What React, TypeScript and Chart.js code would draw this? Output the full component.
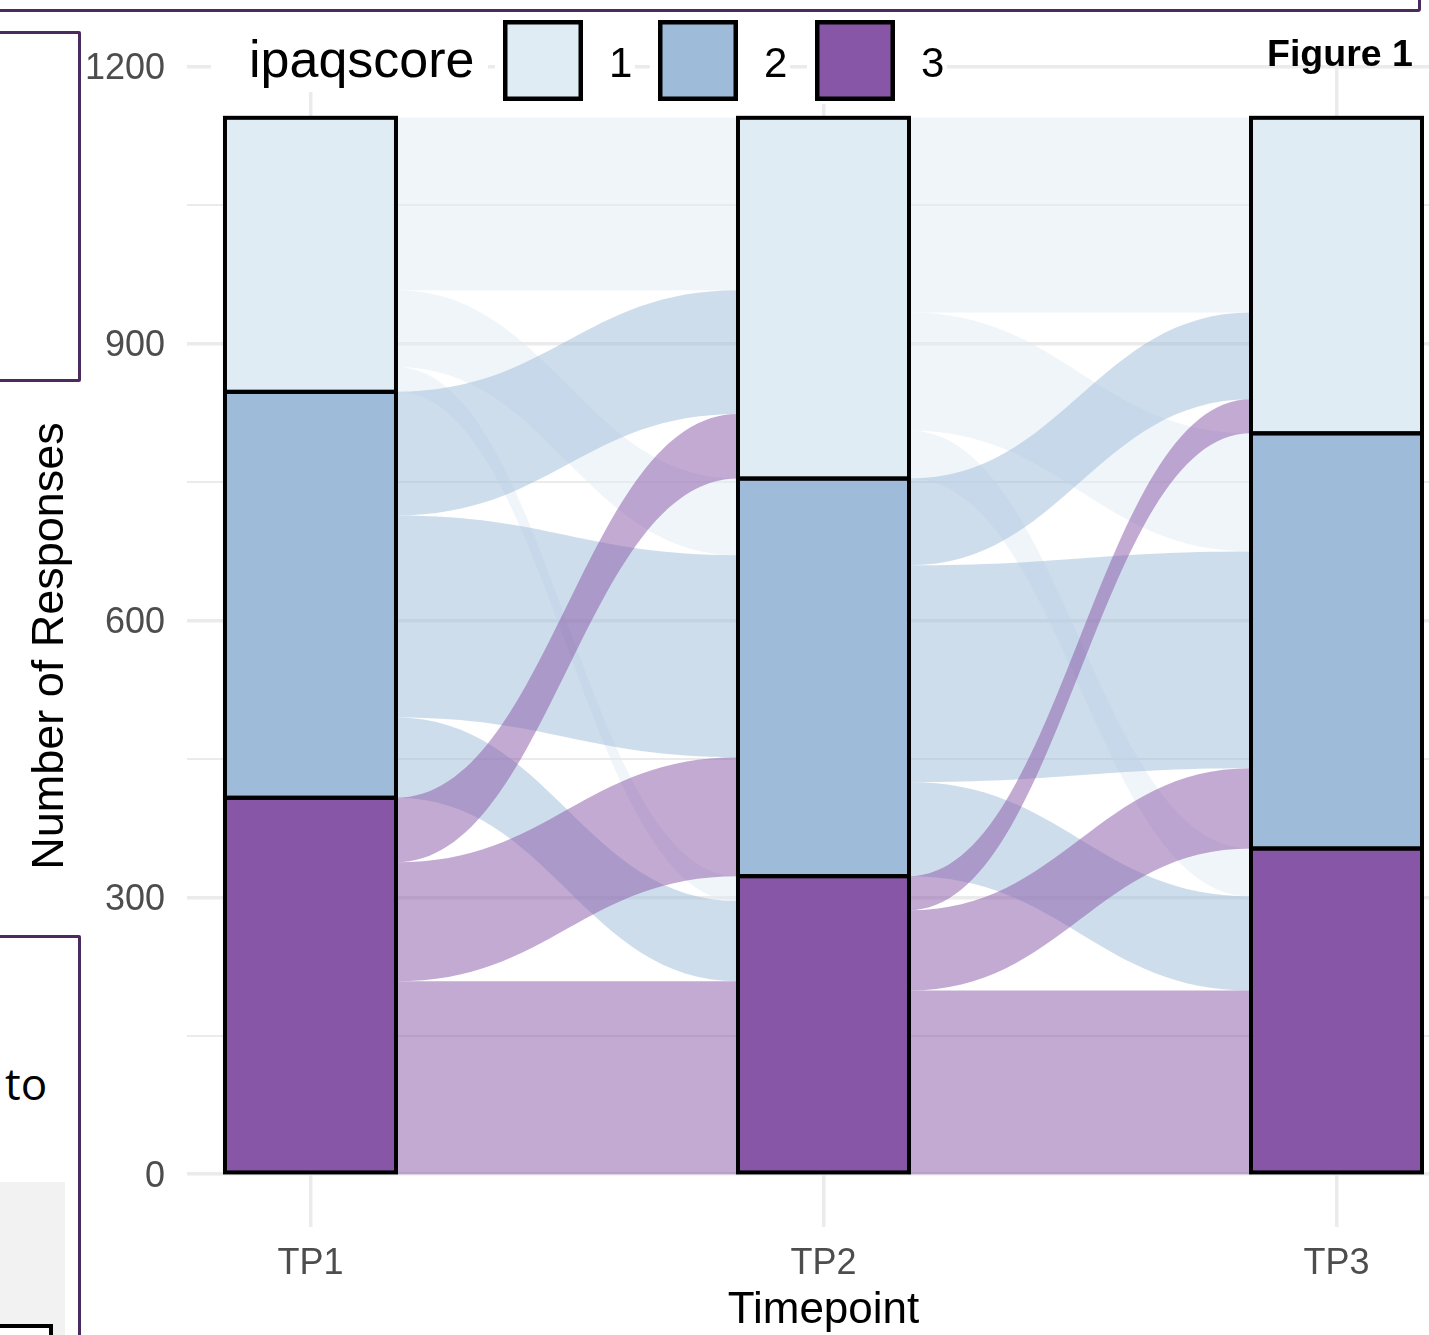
import React, { useEffect, useRef } from 'react';
import { Chart, registerables } from 'chart.js';

Chart.register(...registerables);

// ---------- data ----------
const timepoints = ['TP1', 'TP2', 'TP3'];
const scoreLevels = ['1', '2', '3'];
const score1Counts = [297, 391, 342];
const score2Counts = [440, 431, 450];
const score3Counts = [408, 323, 353];
// alluvial flows: rows = ipaqscore at earlier timepoint (1,2,3), cols = ipaqscore at later timepoint (1,2,3)
const flowsTP1toTP2 = [
  [187, 83, 27],
  [134, 219, 87],
  [70, 129, 209],
];
const flowsTP2toTP3 = [
  [211, 128, 52],
  [94, 235, 102],
  [37, 87, 199],
];
const yMajorTicks = [0, 300, 600, 900, 1200];
const yMinorTicks = [150, 450, 750, 1050];

// ---------- styling ----------
const fillColors = ['#e0ecf4', '#9ebcda', '#8856a7'];
const flowColors = ['rgba(224,236,244,0.5)', 'rgba(158,188,218,0.5)', 'rgba(136,86,167,0.5)'];
const FONT = "'Liberation Sans', Arial, Helvetica, sans-serif";
const strataWidth = 1 / 3;
const curveTension = 0.45;
const gridColor = '#ebebeb';

const countsByScore = [score1Counts, score2Counts, score3Counts];
const flowSets = [flowsTP1toTP2, flowsTP2toTP3];
const stackOrder = [2, 1, 0]; // score 3 at the bottom of each stack
const drawOrder = [0, 1, 2]; // flows from score 1 painted first

function strataBottoms(t: number): number[] {
  const bottoms = [0, 0, 0];
  let acc = 0;
  for (const s of stackOrder) {
    bottoms[s] = acc;
    acc += countsByScore[s][t];
  }
  return bottoms;
}

const alluvialPlugin = {
  id: 'alluvialFlows',
  beforeDatasetsDraw(chart: any) {
    const { ctx, chartArea, scales } = chart;
    const x = scales.x;
    const y = scales.y;
    ctx.save();
    ctx.beginPath();
    ctx.rect(chartArea.left, chartArea.top, chartArea.right - chartArea.left, chartArea.bottom - chartArea.top);
    ctx.clip();
    flowSets.forEach((flows, t) => {
      const srcB = strataBottoms(t);
      const dstB = strataBottoms(t + 1);
      const x0 = x.getPixelForValue(t + 1 + strataWidth / 2);
      const x1 = x.getPixelForValue(t + 2 - strataWidth / 2);
      const cx = (x1 - x0) * curveTension;
      for (const s of drawOrder) {
        for (const d of stackOrder) {
          const v = flows[s][d];
          if (!v) continue;
          let so = srcB[s];
          for (const d2 of stackOrder) {
            if (d2 === d) break;
            so += flows[s][d2];
          }
          let dof = dstB[d];
          for (const s2 of stackOrder) {
            if (s2 === s) break;
            dof += flows[s2][d];
          }
          const ya0 = y.getPixelForValue(so);
          const ya1 = y.getPixelForValue(so + v);
          const yb0 = y.getPixelForValue(dof);
          const yb1 = y.getPixelForValue(dof + v);
          ctx.beginPath();
          ctx.moveTo(x0 - 1, ya0);
          ctx.lineTo(x0, ya0);
          ctx.bezierCurveTo(x0 + cx, ya0, x1 - cx, yb0, x1, yb0);
          ctx.lineTo(x1 + 1, yb0);
          ctx.lineTo(x1 + 1, yb1);
          ctx.lineTo(x1, yb1);
          ctx.bezierCurveTo(x1 - cx, yb1, x0 + cx, ya1, x0, ya1);
          ctx.lineTo(x0 - 1, ya1);
          ctx.closePath();
          ctx.fillStyle = flowColors[s];
          ctx.fill();
        }
      }
    });
    ctx.restore();
  },
};

const outlinePlugin = {
  id: 'strataOutline',
  afterDatasetsDraw(chart: any) {
    const ctx = chart.ctx;
    ctx.save();
    ctx.strokeStyle = '#000000';
    ctx.lineWidth = 4;
    ctx.lineJoin = 'miter';
    chart.data.datasets.forEach((_: any, di: number) => {
      const meta = chart.getDatasetMeta(di);
      meta.data.forEach((bar: any) => {
        const { x, y, base, width } = bar.getProps(['x', 'y', 'base', 'width'], true);
        ctx.strokeRect(x - width / 2, Math.min(y, base), width, Math.abs(base - y));
      });
    });
    ctx.restore();
  },
};

const legendKeyX = [503, 658, 815];

const overlayPlugin = {
  id: 'overlayTexts',
  afterDraw(chart: any) {
    const { ctx, scales } = chart;
    const x = scales.x;
    ctx.save();
    // legend backgrounds
    ctx.fillStyle = '#ffffff';
    ctx.fillRect(211, 18, 277, 74);
    legendKeyX.forEach((kx) => ctx.fillRect(kx - 8, 18, 140, 86));
    // legend title
    ctx.fillStyle = '#000000';
    ctx.textBaseline = 'alphabetic';
    ctx.textAlign = 'left';
    ctx.font = `52px ${FONT}`;
    ctx.fillText('ipaqscore', 249, 77);
    // legend keys
    legendKeyX.forEach((kx, i) => {
      ctx.fillStyle = fillColors[i];
      ctx.fillRect(kx, 20, 80, 81);
      ctx.strokeStyle = '#000000';
      ctx.lineWidth = 4.5;
      ctx.strokeRect(kx + 2.25, 22.25, 75.5, 76.5);
      ctx.fillStyle = '#000000';
      ctx.font = `42px ${FONT}`;
      ctx.fillText(scoreLevels[i], kx + 106, 77);
    });
    // figure label
    ctx.font = `bold 37.5px ${FONT}`;
    ctx.fillStyle = '#000000';
    ctx.fillText('Figure 1', 1267, 66);
    // x axis title centred on the middle timepoint
    ctx.font = `44px ${FONT}`;
    ctx.textAlign = 'center';
    ctx.fillText('Timepoint', x.getPixelForValue(2), 1323);
    ctx.restore();
  },
};

export default function App() {
  const canvasRef = useRef<HTMLCanvasElement | null>(null);

  useEffect(() => {
    if (!canvasRef.current) return;
    Chart.defaults.font.family = FONT;
    const datasets = stackOrder.map((s) => ({
      label: scoreLevels[s],
      data: timepoints.map((_, i) => ({ x: i + 1, y: countsByScore[s][i] })),
      backgroundColor: fillColors[s],
      borderWidth: 0,
      stack: 'strata',
      categoryPercentage: 1,
      barPercentage: strataWidth,
      inflateAmount: 0.5,
    }));

    const chart = new Chart(canvasRef.current, {
      type: 'bar',
      data: { datasets: datasets as any },
      options: {
        animation: false,
        responsive: false,
        layout: { padding: { top: 65, right: 0, bottom: 0, left: 0 } },
        plugins: { legend: { display: false }, tooltip: { enabled: false } },
        scales: {
          x: {
            type: 'linear',
            min: 0.7593,
            max: 3.1803,
            stacked: true,
            offset: false,
            afterBuildTicks: (scale: any) => {
              scale.ticks = timepoints.map((_, i) => ({ value: i + 1 }));
            },
            afterFit: (scale: any) => {
              scale.height = 108;
            },
            ticks: {
              autoSkip: false,
              maxRotation: 0,
              padding: 15,
              color: '#4d4d4d',
              font: { size: 36, family: FONT },
              callback: (_v: any, index: number) => timepoints[index],
            },
            grid: { color: gridColor, lineWidth: 3.5, drawTicks: false, offset: false },
            border: { display: false },
          },
          y: {
            type: 'linear',
            min: -57.25,
            max: 1202.25,
            stacked: true,
            afterBuildTicks: (scale: any) => {
              scale.ticks = [...yMajorTicks, ...yMinorTicks].sort((a, b) => a - b).map((v) => ({ value: v }));
            },
            afterFit: (scale: any) => {
              scale.width = 187;
            },
            ticks: {
              autoSkip: false,
              padding: 22,
              labelOffset: 2.5,
              color: '#4d4d4d',
              font: { size: 36, family: FONT },
              callback: (v: any) => (yMajorTicks.includes(Number(v)) ? String(v) : ''),
            },
            grid: {
              color: gridColor,
              lineWidth: (c: any) => (c.tick && yMajorTicks.includes(c.tick.value) ? 3.5 : 2),
              drawTicks: false,
            },
            border: { display: false },
            title: {
              display: true,
              text: 'Number of Responses',
              color: '#000000',
              font: { size: 45, family: FONT },
              padding: { top: 24, bottom: 0 },
            },
          },
        },
      } as any,
      plugins: [alluvialPlugin, outlinePlugin, overlayPlugin],
    });
    return () => chart.destroy();
  }, []);

  const purple = '#4b2a5e';
  return (
    <div style={{ position: 'fixed', left: 0, top: 0, width: 1429, height: 1335, overflow: 'hidden', background: '#ffffff' }}>
      <canvas ref={canvasRef} width={1429} height={1335} style={{ position: 'absolute', left: 0, top: 0 }} />
      <div style={{ position: 'absolute', left: -10, top: -30, width: 1431, height: 42, border: `3.5px solid ${purple}`, borderRadius: 3, boxSizing: 'border-box' }} />
      <div style={{ position: 'absolute', left: -10, top: 30.5, width: 91, height: 351, border: `3.5px solid ${purple}`, borderRadius: 2, boxSizing: 'border-box', background: '#ffffff' }} />
      <div style={{ position: 'absolute', left: -10, top: 935, width: 91, height: 450, border: `3.5px solid ${purple}`, borderRadius: 2, boxSizing: 'border-box', background: '#ffffff' }} />
      <div style={{ position: 'absolute', left: 0, top: 1182, width: 65, height: 200, background: '#f2f2f2' }} />
      <div style={{ position: 'absolute', left: -10, top: 1324, width: 62.5, height: 30, border: '4px solid #000000', boxSizing: 'border-box', background: '#ffffff' }} />
      <div style={{ position: 'absolute', left: 5, top: 1061, fontFamily: "'Open Sans', sans-serif", fontSize: 44, lineHeight: '44px', color: '#000000', whiteSpace: 'nowrap' }}>to</div>
    </div>
  );
}
